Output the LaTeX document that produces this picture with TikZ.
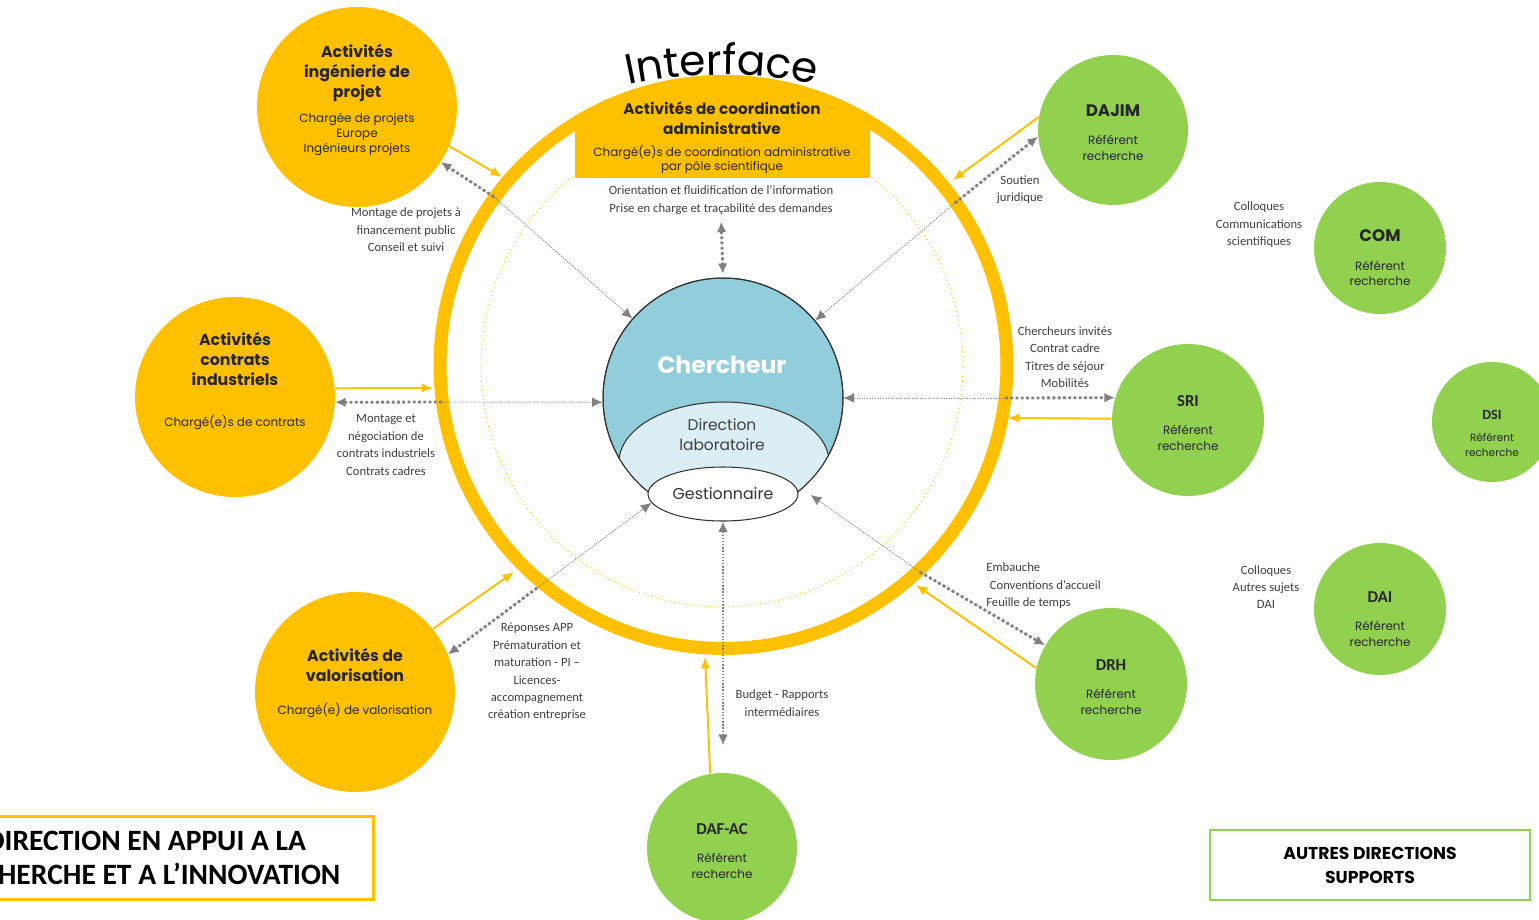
\documentclass[tikz,border=0pt]{standalone}
\usepackage{fontspec}
\setmainfont{Carlito}
\newfontfamily\gothic{Poppins}
\usepackage{tikz}
\usetikzlibrary{calc}
\usetikzlibrary{arrows.meta}
\usetikzlibrary{shapes}
\usetikzlibrary{shapes.geometric}
\usetikzlibrary{decorations.text}
\definecolor{gold}{HTML}{FFC000}
\definecolor{leaf}{HTML}{92D050}
\definecolor{skyb}{HTML}{92CDDC}
\definecolor{paleb}{HTML}{DAEEF3}
\definecolor{arrgray}{HTML}{808080}
\definecolor{labgray}{HTML}{404040}
\newcommand{\otitle}{\gothic\bfseries\fontsize{9}{11.3}\selectfont}
\newcommand{\osub}{\gothic\fontsize{6.8}{8.5}\selectfont}
\newcommand{\gtitle}{\bfseries\fontsize{9.5}{11}\selectfont}
\newcommand{\gsub}{\gothic\fontsize{6.8}{9}\selectfont}
\tikzset{>=latex}
\tikzstyle{orgc} = [circle, fill=gold, minimum size=4cm, inner sep=0]
\tikzstyle{grnc} = [circle, fill=leaf, inner sep=0]
\tikzstyle{ctext} = [align=flush center, inner sep=0, text=black!85]
\tikzstyle{lbl} = [align=center, inner sep=0, text=labgray, font=\fontsize{7.2}{9.9}\selectfont]
\tikzstyle{oarr} = [-{Latex[length=6.5pt, width=5.5pt]}, draw=gold, line width=1.1pt]
\tikzstyle{gout} = [-{Latex[length=6pt, width=5.5pt]}, draw=arrgray, fill=arrgray, line width=1.6pt, dash pattern=on 1.6pt off 1.4pt]
\tikzstyle{gin} = [-{Latex[length=6pt, width=5.5pt]}, draw=arrgray, fill=arrgray, line width=0.5pt, densely dotted]
\tikzstyle{gdbl} = [{Latex[length=6pt, width=5.5pt]}-{Latex[length=6pt, width=5.5pt]}, draw=arrgray, fill=arrgray, line width=0.8pt, densely dotted]

\begin{document}
\begin{tikzpicture}[x=0.02cm, y=-0.02cm]
\useasboundingbox (0, 0) rectangle (1539, 920);
\clip (0, 0) rectangle (1539, 920);
\fill [white] (0, 0) rectangle (1539, 920);

% interface ring and banner
\draw [gold, line width=0.6pt, dotted] (722, 366) circle [radius=4.82cm];
\draw [gold, line width=7.4pt] (723.5, 365) circle [radius=5.67cm];
\begin{scope}
\clip (575, 0) rectangle (870, 177);
\fill [gold] (723.5, 365) circle [radius=5.8cm];
\end{scope}
\path [decorate, decoration={text along path, text align=center,
  text={|\gothic\fontsize{24}{24}\selectfont|Interface}}]
  (615, 88) .. controls (685, 70.5) and (759, 70.5) .. (829, 88);
\node [ctext, text width=6cm] (coord) at (722, 138) {{\gothic\bfseries\fontsize{8.7}{11}\selectfont Activités de coordination\\ administrative\par}\vspace{4pt}{\osub Chargé(e)s de coordination administrative\\ par pôle scientifique\par}};

% activities
\node [orgc] (proj) at (357, 107) {};
\node [orgc] (contrats) at (235, 397) {};
\node [orgc] (valo) at (355, 692) {};

% support directions
\node [grnc, minimum size=3cm] (dajim) at (1113, 130) {};
\node [grnc, minimum size=2.64cm] (com) at (1380, 248) {};
\node [grnc, minimum size=3.04cm] (sri) at (1188, 420) {};
\node [grnc, minimum size=2.4cm] (dsi) at (1492, 422) {};
\node [grnc, minimum size=2.64cm] (dai) at (1380, 609) {};
\node [grnc, minimum size=3.04cm] (drh) at (1111, 684) {};
\node [grnc, minimum size=3cm] (dafac) at (722, 848) {};

% researcher
\node [circle, fill=skyb, draw=black!80, line width=0.6pt, minimum size=4.8cm, inner sep=0] (cherch) at (723, 398) {};
\begin{scope}
\clip (723, 398) circle [radius=2.4cm];
\filldraw [fill=paleb, draw=black!80, line width=0.6pt] (724, 462) ellipse [x radius=2.1cm, y radius=1.2cm];
\end{scope}
\draw [black!80, line width=0.6pt] (cherch.center) circle [radius=2.4cm];
\node [ellipse, fill=white, draw=black!80, line width=0.6pt, minimum width=3cm, minimum height=1.08cm, inner sep=0, font=\gothic\fontsize{9}{11}\selectfont, text=black!80] (gest) at (723, 494) {Gestionnaire};
\node [font=\gothic\bfseries\fontsize{13.4}{14}\selectfont, text=white, inner sep=0] (cherchtxt) at (722, 365) {Chercheur};
\node [ctext, font=\gothic\fontsize{8.8}{11.3}\selectfont, text=black!75] (dirlab) at (722, 435) {Direction\\ laboratoire};

% ring crossings
\coordinate (r1) at (502, 177);
\coordinate (r2) at (433, 388);
\coordinate (r3) at (514, 572);
\coordinate (r4) at (705, 657);
\coordinate (r5) at (916, 585);
\coordinate (r6) at (1008, 418);
\coordinate (r7) at (953, 180);
\coordinate (g1) at (494, 197);
\coordinate (g2) at (442, 402);
\coordinate (g3) at (537, 588);
\coordinate (g4) at (723, 745);
\coordinate (g5) at (920, 572);
\coordinate (g6) at (1005, 398);
\coordinate (g7) at (955, 203);

\draw [oarr] (proj.-23) to (r1);
\draw [oarr] (contrats.5) to (r2);
\draw [oarr] (valo.39) to (r3);
\draw [oarr] (dafac.99) to (r4);
\draw [oarr] (drh.168) to (r5);
\draw [oarr] (sri.179) to (r6);
\draw [oarr] (dajim.170) to (r7);

\draw [gout] (g1) to (proj);
\draw [gin] (g1) to (cherch);
\draw [gout] (g2) to (contrats.-3);
\draw [gin] (g2) to (cherch.-178);
\draw [gout] (g3) to (valo.22);
\draw [gin] (g3) to (gest.187);
\draw [gdbl] (g4) to (gest.south);
\draw [gout] (g5) to (drh);
\draw [gin, shorten >=6pt] (g5) to (cherch.-49);
\draw [gout] (g6) to (sri.163);
\draw [gin] (g6) to (cherch.0);
\draw [gout] (g7) to (dajim.185);
\draw [gin] (g7) to (cherch);

% texts
\node [ctext, text width=3.2cm] (projtxt) at (357, 100) {{\otitle Activités\\ ingénierie de\\ projet\par}\vspace{6pt}{\osub Chargée de projets\\ Europe\\ Ingénieurs projets\par}};
\node [ctext, text width=3.2cm] (contratstxt) at (235, 381) {{\otitle Activités\\ contrats\\ industriels\par}\vspace{14.5pt}{\osub Chargé(e)s de contrats\par}};
\node [ctext, text width=3.6cm] (valotxt) at (355, 683) {{\otitle Activités de\\ valorisation\par}\vspace{10.5pt}{\osub Chargé(e) de valorisation\par}};
\node [ctext, text width=2.4cm] (dajimtxt) at (1113, 133) {{\gtitle\gothic DAJIM\par}\vspace{7pt}{\gsub Référent\\ recherche\par}};
\node [ctext, text width=2.2cm] (comtxt) at (1380, 258) {{\gtitle\gothic COM\par}\vspace{7pt}{\gsub Référent\\ recherche\par}};
\node [ctext, text width=2.4cm] (sritxt) at (1188, 423) {{\gtitle SRI\par}\vspace{7pt}{\gsub Référent\\ recherche\par}};
\node [ctext, text width=2cm] (dsitxt) at (1492, 433) {{\bfseries\fontsize{8}{9}\selectfont DSI\par}\vspace{5pt}{\gothic\fontsize{6}{8}\selectfont Référent\\ recherche\par}};
\node [ctext, text width=2.2cm] (daitxt) at (1380, 619) {{\gtitle DAI\par}\vspace{7pt}{\gsub Référent\\ recherche\par}};
\node [ctext, text width=2.4cm] (drhtxt) at (1111, 687) {{\gtitle DRH\par}\vspace{7pt}{\gsub Référent\\ recherche\par}};
\node [ctext, text width=2.4cm] (dafactxt) at (722, 851) {{\gtitle DAF-AC\par}\vspace{7pt}{\gsub Référent\\ recherche\par}};

\node [lbl] (info) at (721, 200) {Orientation et fluidification de l’information\\ Prise en charge et traçabilité des demandes};
\draw [gdbl, line width=1.6pt, dash pattern=on 1.6pt off 1.4pt, shorten <=4pt, shorten >=2pt] (info.south) to (cherch.north);
\node [lbl] (lproj) at (406, 230) {Montage de projets à\\ financement public\\ Conseil et suivi};
\node [lbl] (lcontrats) at (386, 445) {Montage et\\ négociation de\\ contrats industriels\\ Contrats cadres};
\node [lbl] (lvalo) at (537, 672) {Réponses APP\\ Prématuration et\\ maturation - PI –\\ Licences-\\ accompagnement\\ création entreprise};
\node [lbl] (ldaf) at (782, 703) {Budget - Rapports\\ intermédiaires};
\node [lbl, anchor=west, align=left] (ldrh) at (986, 586) {Embauche\\ \hspace{2pt}Conventions d’accueil\\ Feuille de temps};
\node [lbl] (lsri) at (1065, 357) {Chercheurs invités\\ Contrat cadre\\ Titres de séjour\\ Mobilités};
\node [lbl] (ldajim) at (1020, 190) {Soutien\\ juridique};
\node [lbl] (lcom) at (1259, 225) {Colloques\\ Communications\\ scientifiques};
\node [lbl] (ldai) at (1266, 587) {Colloques\\ Autres sujets\\ DAI};

% legend boxes
\node [draw=gold, line width=1.2pt, minimum width=9.1cm, minimum height=1.66cm, align=center, font=\bfseries\fontsize{16.8}{19.8}\selectfont] (appui) at (146, 858) {DIRECTION EN APPUI A LA\\ RECHERCHE ET A L’INNOVATION};
\node [draw=leaf, line width=0.8pt, minimum width=6.4cm, minimum height=1.4cm, align=center, font=\gothic\bfseries\fontsize{9.8}{13.6}\selectfont] (autres) at (1370, 865) {AUTRES DIRECTIONS\\ SUPPORTS};
\end{tikzpicture}
\end{document}
